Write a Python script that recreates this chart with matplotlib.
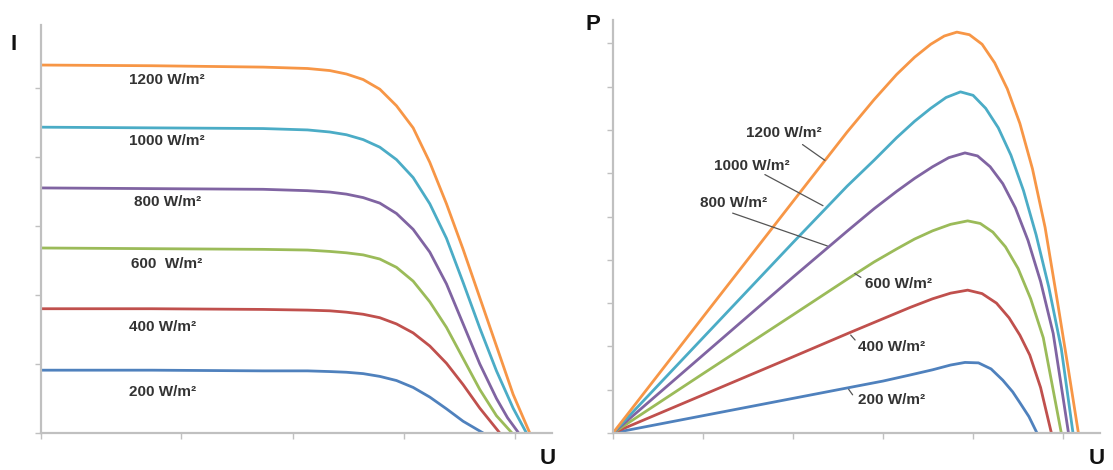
import matplotlib
matplotlib.use("Agg")
import matplotlib.pyplot as plt

plt.rcParams['font.family'] = ['Liberation Sans', 'DejaVu Sans']

W, H = 1113, 470

# irradiance levels, 200 .. 1200 W/m2
levels = ["200", "400", "600", "800", "1000", "1200"]
colors = ["#4F81BD", "#C0504D", "#9BBB59", "#8064A2", "#4BACC6", "#F79646"]

# I-U curves
u_200 = [0, 10, 20, 24, 26, 27.5, 29, 30.5, 32, 33.5, 35, 36.5, 38, 39.8]
i_200 = [0.91, 0.91, 0.90, 0.90, 0.89, 0.88, 0.86, 0.82, 0.76, 0.66, 0.52, 0.35, 0.17, 0]
u_400 = [0, 10, 20, 24, 26, 27.5, 29, 30.5, 32, 33.5, 35, 36.5, 38, 39.5, 41.3]
i_400 = [1.80, 1.80, 1.79, 1.78, 1.77, 1.75, 1.72, 1.67, 1.58, 1.45, 1.26, 1.01, 0.70, 0.36, 0]
u_600 = [0, 10, 20, 24, 26, 27.5, 29, 30.5, 32, 33.5, 35, 36.5, 38, 39.5, 41, 42.4]
i_600 = [2.68, 2.67, 2.66, 2.65, 2.63, 2.61, 2.58, 2.52, 2.40, 2.20, 1.90, 1.53, 1.08, 0.63, 0.25, 0]
u_800 = [0, 10, 20, 24, 26, 27.5, 29, 30.5, 32, 33.5, 35, 36.5, 38, 39.5, 41, 42.0, 43.0]
i_800 = [3.55, 3.54, 3.53, 3.51, 3.49, 3.46, 3.41, 3.33, 3.18, 2.95, 2.62, 2.16, 1.58, 1.00, 0.50, 0.22, 0]
u_1000 = [0, 10, 20, 24, 26, 27.5, 29, 30.5, 32, 33.5, 35, 36.5, 38, 39.5, 41, 42.5, 43.7]
i_1000 = [4.43, 4.42, 4.41, 4.39, 4.36, 4.32, 4.25, 4.14, 3.96, 3.70, 3.32, 2.82, 2.18, 1.52, 0.90, 0.36, 0]
u_1200 = [0, 10, 20, 24, 26, 27.5, 29, 30.5, 32, 33.5, 35, 36.5, 38, 39.5, 41, 42.5, 44.0]
i_1200 = [5.33, 5.32, 5.30, 5.28, 5.25, 5.20, 5.12, 4.98, 4.74, 4.42, 3.92, 3.32, 2.66, 1.96, 1.26, 0.56, 0]

# P-U curves
pu_200 = [0, 10, 20, 26, 30, 33, 35.5, 37.5, 39.1, 40.6, 42, 43.3, 44.4, 45.2, 46.2, 47.1]
p_200 = [0, 0.40, 0.80, 1.04, 1.20, 1.34, 1.46, 1.57, 1.63, 1.62, 1.48, 1.22, 0.95, 0.70, 0.38, 0]
pu_400 = [0, 10, 20, 26.2, 30, 33, 35.5, 37.5, 39.4, 41, 42.6, 44, 45.2, 46.3, 47.5, 48.7]
p_400 = [0, 0.88, 1.76, 2.31, 2.64, 2.90, 3.10, 3.23, 3.30, 3.22, 3.00, 2.66, 2.26, 1.80, 1.05, 0]
pu_600 = [0, 10, 20, 26, 29, 31.5, 33.5, 35.5, 37.5, 39.4, 40.8, 42.2, 43.6, 45, 46.4, 47.8, 49.8]
p_600 = [0, 1.37, 2.73, 3.55, 3.95, 4.25, 4.48, 4.67, 4.82, 4.90, 4.84, 4.64, 4.30, 3.80, 3.10, 2.20, 0]
pu_800 = [0, 10, 20, 26, 29, 31.5, 33.5, 35.5, 37.3, 39.1, 40.5, 41.9, 43.3, 44.7, 46.1, 47.5, 48.9, 50.6]
p_800 = [0, 1.80, 3.60, 4.66, 5.18, 5.58, 5.88, 6.15, 6.36, 6.47, 6.40, 6.15, 5.76, 5.20, 4.45, 3.50, 2.30, 0]
pu_1000 = [0, 10, 20, 26, 29, 31.5, 33.5, 35.3, 37, 38.6, 40, 41.4, 42.8, 44.2, 45.6, 47, 48.4, 49.8, 51.1]
p_1000 = [0, 2.20, 4.40, 5.70, 6.30, 6.82, 7.20, 7.50, 7.75, 7.88, 7.80, 7.50, 7.05, 6.42, 5.60, 4.58, 3.38, 1.95, 0]
pu_1200 = [0, 10, 20, 26, 29, 31.5, 33.5, 35.3, 36.8, 38.2, 39.6, 41, 42.4, 43.8, 45.2, 46.6, 48, 49.4, 50.6, 51.7]
p_1200 = [0, 2.68, 5.35, 6.95, 7.70, 8.28, 8.68, 8.98, 9.17, 9.26, 9.20, 8.98, 8.55, 7.95, 7.15, 6.10, 4.75, 3.00, 1.45, 0]

iu = [(u_200, i_200), (u_400, i_400), (u_600, i_600),
      (u_800, i_800), (u_1000, i_1000), (u_1200, i_1200)]
pu = [(pu_200, p_200), (pu_400, p_400), (pu_600, p_600),
      (pu_800, p_800), (pu_1000, p_1000), (pu_1200, p_1200)]

fig = plt.figure(figsize=(W / 100, H / 100), dpi=100)


def px_axes(x0, y0, x1, y1):
    return fig.add_axes([x0 / W, 1 - y1 / H, (x1 - x0) / W, (y1 - y0) / H])


def style(ax):
    for s in ("top", "right"):
        ax.spines[s].set_visible(False)
    for s in ("left", "bottom"):
        ax.spines[s].set_color("#c0c0c0")
        ax.spines[s].set_linewidth(1.6)
    ax.tick_params(colors="#c0c0c0", length=4, width=1, labelleft=False,
                   labelbottom=False)


lab_kw = dict(fontsize=11, fontweight="bold", color="#333333",
              ha="center", va="center")
lead_kw = dict(arrowprops=dict(arrowstyle="-", color="#555555", lw=0.9))

# ---- left: I-U
ax0 = px_axes(41, 25, 552, 433)
style(ax0)
for (u, i), c in zip(iu, colors):
    ax0.plot(u, i, color=c, lw=2.0, solid_capstyle="round", solid_joinstyle="round")
ax0.set_xlim(0, 46.0)
ax0.set_ylim(0, 5.91)
ax0.set_xticks([0, 12.6, 22.7, 32.7, 42.7])
ax0.set_yticks([0, 1, 2, 3, 4, 5])

left_pos = [(10.9, 0.59), (10.9, 1.54), (11.3, 2.45),
            (11.4, 3.35), (11.3, 4.23), (11.3, 5.12)]
for lv, (x, y) in zip(levels, left_pos):
    txt = lv + ("  " if lv == "600" else " ") + "W/m²"
    ax0.text(x, y, txt, **lab_kw)

# ---- right: P-U
ax1 = px_axes(613, 20, 1100, 433)
style(ax1)
for (u, p), c in zip(pu, colors):
    ax1.plot(u, p, color=c, lw=2.0, solid_capstyle="round", solid_joinstyle="round")
ax1.set_xlim(0, 54.1)
ax1.set_ylim(0, 9.54)
ax1.set_xticks([0, 10, 20, 30, 40, 50])
ax1.set_yticks(range(10))

right_txt = [(31.0, 0.76), (30.9, 1.99), (31.7, 3.44),
             (13.4, 5.31), (15.4, 6.17), (19.0, 6.93)]
right_lead = [((26.0, 1.06), (26.8, 0.83)), ((26.2, 2.31), (27.1, 2.10)),
              ((26.6, 3.72), (27.8, 3.56)), ((24.1, 4.30), (13.0, 5.10)),
              ((23.6, 5.22), (16.6, 6.00)), ((23.8, 6.26), (20.8, 6.70))]
for lv, (x, y), (a, b) in zip(levels, right_txt, right_lead):
    ax1.text(x, y, lv + " W/m²", **lab_kw)
    ax1.annotate("", xy=a, xytext=b, **lead_kw)

# axis letters
ax_kw = dict(fontsize=16, fontweight="bold", color="#111111",
             ha="center", va="center")
fig.text(14 / W, 1 - 45 / H, "I", **ax_kw)
fig.text(593 / W, 1 - 25 / H, "P", **ax_kw)
fig.text(548 / W, 1 - 458 / H, "U", **ax_kw)
fig.text(1097 / W, 1 - 458 / H, "U", **ax_kw)

fig.savefig("out.png", dpi=100)
